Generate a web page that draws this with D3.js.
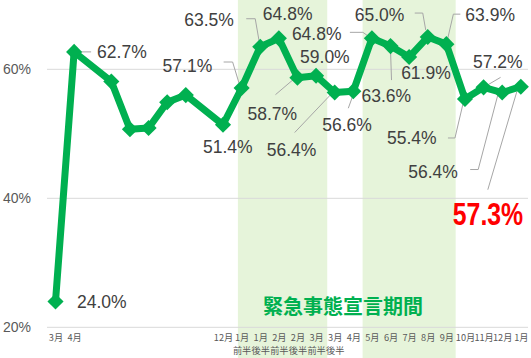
<!DOCTYPE html>
<html><head><meta charset="utf-8">
<script src="https://cdn.jsdelivr.net/npm/d3@7"></script>
<style>html,body{margin:0;padding:0;background:#fff;}svg{display:block;}</style>
</head><body>
<svg id="chart" width="531" height="358"></svg>
<script>
// ---- data ----
const categories = ["3月","4月","","","","","","","","12月","1月|前半","1月|後半","2月|前半","2月|後半","3月|前半","3月|後半","4月","5月","6月","7月","8月","9月","10月","11月","12月","1月"];
const values = [24.0,62.7,null,58.1,50.7,50.9,54.9,56.0,null,51.4,57.1,63.5,64.8,58.7,59.0,56.4,56.6,64.8,63.6,61.9,65.0,63.9,55.4,57.2,56.4,57.3];
const labeled = [0,1,9,10,11,12,13,14,15,16,17,18,19,20,21,22,23,24,25];
const yTicks = [20,40,60];
const yDomain = [20,70];
// state of emergency periods (in category-index units)
const emergencyPeriods = [[9.8,14.6],[16.5,21.5]];
const emergencyLabel = "緊急事態宣言期間";
const highlightIndex = 25;

// ---- label layout (offsets from each point) ----
const labelLayout = {
  0:{dx:21.5,dy:0.5},
  1:{dx:23,dy:0,leader:[[4,0],[17,0]]},
  9:{dx:-20,dy:22},
  10:{dx:-79,dy:-22,leader:[[-18,-26],[-9,-26],[-2,-3]]},
  11:{dx:-76,dy:-27,leader:[[-14,-28],[-5,-28],[-1,-5]]},
  12:{dx:-16,dy:-24},
  13:{dx:-50,dy:36,leader:[[-22,17],[-2,0]]},
  14:{dx:-16,dy:-19},
  15:{dx:-68,dy:57.5,leader:[[-40,40],[-2,0]]},
  16:{dx:-31,dy:34,leader:[[-5,17],[-1,6]]},
  17:{dx:-80,dy:-4,leader:[[-22,-6],[-9,-6],[-2,-1]]},
  18:{dx:-29,dy:50,leader:[[0,4],[1,34]]},
  19:{dx:-8,dy:16},
  20:{dx:-73,dy:-22,leader:[[-13,-24],[-5,-24],[-2,-7]]},
  21:{dx:19,dy:-29,leader:[[14,-30],[7,-30],[1,-4]]},
  22:{dx:-78,dy:39,leader:[[-17,39],[-10,39],[-2,5]]},
  23:{dx:-10.6,dy:-25,leader:[[0,0],[17,-10]]},
  24:{dx:-94,dy:79,leader:[[-32,77],[-24,77],[-4,1]]},
  25:{dx:-68,dy:128,leader:[[-4,5],[-33,103]]}
};

const svg = d3.select("#chart");
const W = 531, H = 358;
const plotLeft = 47, plotRight = 528;

const idx = d3.range(categories.length);
const x = d3.scalePoint().domain(idx).range([55.5, 520.8]);
const step = x.step();
const xi = i => x(0) + i*step;
const y = d3.scaleLinear().domain(yDomain).range([327.3, 4.8]);

const green = "#00B050";

// shading
svg.append("g").selectAll("rect").data(emergencyPeriods).join("rect")
  .attr("x", d => xi(d[0])).attr("width", d => xi(d[1]) - xi(d[0]))
  .attr("y", 0).attr("height", H)
  .attr("fill", "#E6F4DA");

// gridlines
svg.append("g").selectAll("line").data(yTicks).join("line")
  .attr("x1", plotLeft).attr("x2", plotRight)
  .attr("y1", d => y(d)).attr("y2", d => y(d))
  .attr("stroke", "#D9D9D9").attr("stroke-width", 1);

// y tick labels
svg.append("g").selectAll("text").data(yTicks).join("text")
  .attr("x", 31).attr("y", d => y(d))
  .attr("text-anchor", "end").attr("dominant-baseline", "central")
  .attr("font-family", "Liberation Sans, Arial, sans-serif").attr("font-size", 14)
  .attr("fill", "#595959").text(d => d + "%");

// x axis labels
const xAxis = d3.axisBottom(x).tickSize(0).tickFormat("");
const gx = svg.append("g").attr("transform", `translate(0,${y(20)})`).call(xAxis);
gx.select(".domain").remove();
gx.selectAll(".tick").each(function(d) {
  const parts = categories[d].split("|");
  const t = d3.select(this).append("text")
    .attr("text-anchor", "middle")
    .attr("font-family", "Noto Sans CJK JP, sans-serif").attr("font-size", 9.2)
    .attr("fill", "#595959");
  parts.forEach((p, k) => {
    t.append("tspan").attr("x", 0).attr("y", 14 + k*13).text(p);
  });
});

// emergency label
svg.append("text").attr("x", 263).attr("y", 305)
  .attr("dominant-baseline", "central")
  .attr("font-family", "Noto Sans CJK JP, sans-serif").attr("font-weight", "bold")
  .attr("font-size", 20).attr("fill", green).text(emergencyLabel);

const pts = idx.filter(i => values[i] != null).map(i => ({i, v: values[i], px: x(i), py: y(values[i])}));

// leader lines
const lineGen = d3.line();
svg.append("g").selectAll("path").data(labeled.filter(i => labelLayout[i].leader)).join("path")
  .attr("d", i => lineGen(labelLayout[i].leader.map(([a,b]) => [x(i)+a, y(values[i])+b])))
  .attr("fill", "none").attr("stroke", "#A6A6A6").attr("stroke-width", 1);

// series line
svg.append("path").datum(pts)
  .attr("d", d3.line().x(d => d.px).y(d => d.py))
  .attr("fill", "none").attr("stroke", green).attr("stroke-width", 7)
  .attr("stroke-linejoin", "round");

// markers
const sym = d3.symbol().type(d3.symbolSquare).size(130);
svg.append("g").selectAll("path").data(pts).join("path")
  .attr("d", sym)
  .attr("transform", d => `translate(${d.px},${d.py}) rotate(45)`)
  .attr("fill", green);

// data labels
const normalLabels = labeled.filter(i => i !== highlightIndex);
svg.append("g").selectAll("text").data(normalLabels).join("text")
  .attr("x", i => x(i) + labelLayout[i].dx)
  .attr("y", i => y(values[i]) + labelLayout[i].dy)
  .attr("dominant-baseline", "central")
  .attr("font-family", "Liberation Sans, Arial, sans-serif")
  .attr("font-size", 17.5)
  .attr("fill", "#404040")
  .text(i => values[i].toFixed(1) + "%");

// highlighted (latest) label: condensed bold red
const hi = highlightIndex;
svg.append("text")
  .attr("transform", `translate(${x(hi) + labelLayout[hi].dx},${y(values[hi]) + labelLayout[hi].dy}) scale(0.8,1)`)
  .attr("dominant-baseline", "central")
  .attr("font-family", "Liberation Sans, Arial, sans-serif")
  .attr("font-size", 31).attr("font-weight", "bold")
  .attr("fill", "#FF0000")
  .text(values[hi].toFixed(1) + "%");
</script>
</body></html>
